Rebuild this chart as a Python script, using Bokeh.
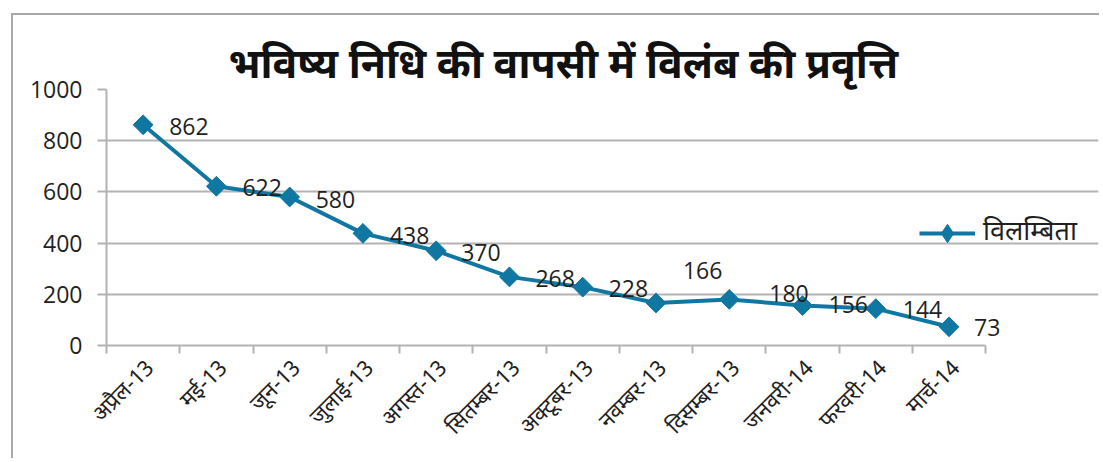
from math import pi
from bokeh.plotting import figure
from bokeh.models import (ColumnDataSource, Range1d, LinearAxis,
                          FixedTicker, LabelSet, Legend, LegendItem)
from bokeh.core.properties import value
from bokeh.embed import file_html
from bokeh.resources import INLINE

# ---------------- data ----------------
title_text = "भविष्य निधि की वापसी में विलंब की प्रवृत्ति"
series_name = "विलम्बिता"
months = ["अप्रैल-13", "मई-13", "जून-13", "जुलाई-13", "अगस्त-13", "सितम्बर-13",
          "अक्टूबर-13", "नवम्बर-13", "दिसम्बर-13", "जनवरी-14", "फरवरी-14", "मार्च-14"]
delays = [862, 622, 580, 438, 370, 268, 228, 166, 180, 156, 144, 73]
y_ticks = [0, 200, 400, 600, 800, 1000]

# data-label placement (screen pixels, style only)
label_dx = [26, 26, 26, 27, 25, 26, 26, 27, 40, 26, 27, 25]
label_dy = [-2, -1, -2, -2, -2, -2, -1, 33, 6, 1, -1, -1]

# ---------------- styles ----------------
LINE_COLOR = "#0f77a2"
GRID_COLOR = "#b3b3b3"
TEXT_COLOR = "#1f1f1f"
NUM_FONT = "Open Sans"
DEV_FONT = "Noto Sans Devanagari, Noto Sans"
RIGHT_ROOM = 1.54      # extra x room (category widths) for the legend and last label
LABEL_SHIFT = 0.11     # month labels sit slightly right of the category centre

n = len(months)
centers = [i + 0.5 for i in range(n)]          # category centres on the x scale
bounds = list(range(n + 1))                     # category boundaries (tick marks)
label_pos = [c + LABEL_SHIFT for c in centers]

src = ColumnDataSource(dict(
    x=centers, month=months, delay=delays, label=[str(v) for v in delays],
    dx=label_dx, dy=label_dy, hidden=[float("nan")] * n,
))

p = figure(width=1088, height=445,
           x_range=Range1d(0, n + RIGHT_ROOM), y_range=Range1d(0, 1000),
           output_backend="svg", toolbar_location=None, x_axis_location=None,
           min_border_left=93, min_border_right=3, min_border_top=74, min_border_bottom=115,
           margin=(15, 0, 0, 13),
           styles={"box-shadow": "-2px -2px 0 0 #a9a9a9"})
p.outline_line_color = None
p.background_fill_color = "white"
p.border_fill_color = "white"

# title
p.title.text = title_text
p.title.align = "left"
p.title.offset = 122
p.title.standoff = -10
p.title.text_font = DEV_FONT
p.title.text_font_size = "41px"
p.title.text_font_style = "bold"
p.title.text_color = "#111111"

# y axis
p.yaxis.ticker = FixedTicker(ticks=y_ticks)
p.yaxis.axis_line_color = GRID_COLOR
p.yaxis.axis_line_width = 2
p.yaxis.major_tick_line_color = GRID_COLOR
p.yaxis.major_tick_line_width = 2
p.yaxis.major_tick_out = 9
p.yaxis.major_tick_in = 0
p.yaxis.minor_tick_line_color = None
p.yaxis.major_label_text_font = NUM_FONT
p.yaxis.major_label_text_font_size = "23px"
p.yaxis.major_label_text_color = TEXT_COLOR
p.yaxis.major_label_standoff = 15

p.ygrid.grid_line_color = GRID_COLOR
p.ygrid.grid_line_width = 2
p.ygrid.bounds = (0, n)
p.xgrid.visible = False

# x axes: boundary ticks + category labels
tick_axis = LinearAxis(ticker=FixedTicker(ticks=bounds), bounds=(0, n),
                       axis_line_color=GRID_COLOR, axis_line_width=2,
                       major_tick_line_color=GRID_COLOR, major_tick_line_width=2,
                       major_tick_out=8, major_tick_in=0, minor_tick_line_color=None,
                       major_label_overrides={b: "" for b in bounds},
                       major_label_text_font_size="0px", major_label_standoff=0)
p.add_layout(tick_axis, "below")
label_axis = LinearAxis(ticker=FixedTicker(ticks=label_pos), bounds=(0, n),
                        major_label_overrides={c: m for c, m in zip(label_pos, months)},
                        axis_line_color=None, major_tick_line_color=None,
                        minor_tick_line_color=None,
                        major_label_orientation=pi / 4,
                        major_label_standoff=6,
                        major_label_text_font=DEV_FONT,
                        major_label_text_font_size="22px",
                        major_label_text_color=TEXT_COLOR)
p.add_layout(label_axis, "below")

# series
line_r = p.line(x="x", y="delay", source=src, line_color=LINE_COLOR, line_width=4)
mark_r = p.scatter(x="x", y="delay", source=src, marker="square", angle=pi / 4,
                   size=14, fill_color=LINE_COLOR, line_color=LINE_COLOR)
# legend-only marker (no visible points): narrow diamond as in the legend key
key_r = p.scatter(x="x", y="hidden", source=src, marker="diamond", size=19,
                  fill_color=LINE_COLOR, line_color=LINE_COLOR)

labels = LabelSet(x="x", y="delay", text="label", source=src,
                  x_offset="dx", y_offset="dy",
                  text_align="left", text_baseline="middle",
                  text_font=value(NUM_FONT), text_font_size="23px", text_color=TEXT_COLOR)
p.add_layout(labels)

legend = Legend(items=[LegendItem(label=series_name, renderers=[line_r, key_r])],
                location=(813, 89), padding=0, margin=0, spacing=0,
                glyph_width=56, glyph_height=46, label_standoff=8,
                label_text_font=DEV_FONT, label_text_font_size="27px",
                label_text_color=TEXT_COLOR,
                background_fill_alpha=0, border_line_color=None)
p.add_layout(legend)

open("out.html", "w").write(file_html(p, INLINE))
